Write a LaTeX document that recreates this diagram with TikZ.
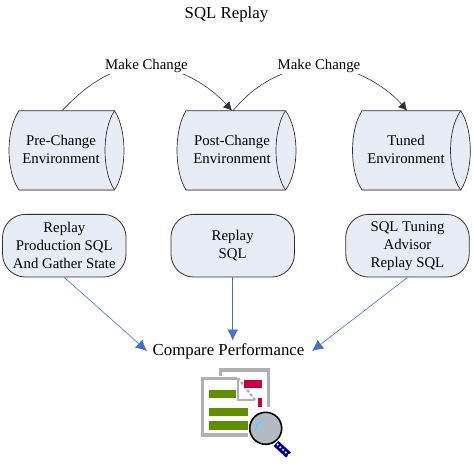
\documentclass[tikz,border=0pt]{standalone}
\usepackage{fontspec}
\setmainfont{Liberation Serif}
\usetikzlibrary{arrows.meta}
\definecolor{boxfill}{HTML}{E7ECF7}
\definecolor{boxline}{HTML}{303030}
\definecolor{flow}{HTML}{4472C4}
\definecolor{pagegray}{HTML}{B0B0B0}
\definecolor{bargreen}{HTML}{5F8F00}
\definecolor{iconred}{HTML}{C8003C}
\definecolor{handle}{HTML}{00007F}
\definecolor{lens}{HTML}{B4BAC4}
\tikzset{
  x=1pt,y=-1pt,
  txt/.style={font=\fontsize{14.8}{18}\selectfont,align=center,inner sep=0pt},
  bigtxt/.style={font=\fontsize{16.8}{20}\selectfont,align=center,inner sep=0pt},
  cyltext/.style={txt,minimum width=#1,minimum height=79.3},
  cylbody/.style={draw=boxline,fill=boxfill,line width=.7pt},
  cylshadow/.style={draw=gray!75,line width=1.4pt},
  proc/.style={txt,draw=boxline,fill=boxfill,line width=.8pt,rounded corners=23,minimum width=123.5,minimum height=62.7},
  curveline/.style={draw=boxline,line width=.6pt},
  curvearrow/.style={curveline,-{Latex[length=8.5,width=9]}},
  flowarrow/.style={draw=flow,line width=.6pt,-{Latex[length=11,width=11]}}
}
% \cylshape{name}{left bulge x}{top-left x}{top-right x}{inner x}{right x}{text centre x}{text}
\newcommand{\cylshape}[8]{%
  \path[cylbody] (#3,110.7) -- (#4,110.7) .. controls ({#4+(#6-#4)*4/3},130) and ({#4+(#6-#4)*4/3},171) .. (#4,190)
     -- (#3,190) .. controls ({#3+(#2-#3)*4/3},171) and ({#3+(#2-#3)*4/3},130) .. (#3,110.7) -- cycle;
  \path[draw=boxline,line width=.7pt] (#4,110.7) .. controls ({#4+(#5-#4)*4/3},130) and ({#4+(#5-#4)*4/3},171) .. (#4,190);
  \path[cylshadow] (#3,190.2) -- (#4,190.2);
  \node[cyltext=#4-#3] (#1) at (#7,149.8) {#8};
}
\begin{document}
\begin{tikzpicture}
\useasboundingbox (0,0) rectangle (474,467);
\node[bigtxt] (title) at (226.5,14.5) {SQL Replay};
\node[txt] (mc1) at (146.5,66) {Make Change};
\node[txt] (mc2) at (319,66) {Make Change};

\cylshape{pre}{9}{19}{114.5}{105}{124}{61}{Pre-Change\\Environment}
\cylshape{post}{177}{186}{285.5}{276}{296}{232}{Post-Change\\Environment}
\cylshape{tuned}{352.5}{362}{460.7}{450.5}{470.3}{406}{Tuned\\Environment}

\coordinate (preout) at (62,110.7);
\coordinate (postin) at (232,110.7);
\coordinate (postout) at (233,110.7);
\coordinate (tunedin) at (407,110.7);
\coordinate (mc1l) at (110,74);
\coordinate (mc1r) at (183,74);
\coordinate (mc2l) at (282,74);
\coordinate (mc2r) at (358,74);
\draw[curveline] (preout) .. controls (76,96) and (92,82) .. (mc1l);
\draw[curvearrow] (mc1r) .. controls (200,81) and (216,93) .. (postin);
\draw[curveline] (postout) .. controls (245,96) and (262,82) .. (mc2l);
\draw[curvearrow] (mc2r) .. controls (375,81) and (392,93) .. (tunedin);

\node[proc] (p1) at (64.3,245.7) {Replay\\Production SQL\\And Gather State};
\node[proc] (p2) at (232.7,245.7) {Replay\\SQL};
\node[proc] (p3) at (407.5,245.7) {SQL Tuning\\Advisor\\Replay SQL};

\node[bigtxt] (cmp) at (228.5,351) {Compare Performance};
\coordinate (cmpl) at (147,351);
\coordinate (cmpr) at (312,351);
\draw[flowarrow] (p1.south) -- (cmpl);
\draw[flowarrow] (p2.south) -- (232.7,340.5);
\draw[flowarrow] (p3.south) -- (cmpr);

% report icon
\draw[pagegray,line width=3.6pt,fill=white] (220.5,376) -- (220.5,369.8) -- (268.3,369.8) -- (268.3,435) -- (202.5,435) -- (202.5,378.5) -- (237,378.5);
\draw[pagegray,line width=2.4pt] (238,378) -- (238,400) -- (255,400);
\draw[pagegray,line width=2.4pt,dash pattern=on 3pt off 2pt] (238,378) -- (255,400);
\fill[bargreen] (209,389.5) rectangle (235.5,398);
\fill[bargreen] (209,407.5) rectangle (248,416);
\fill[bargreen] (209,421) rectangle (248,429.5);
\fill[iconred] (244,380) rectangle (262,388);
\fill[iconred] (257.5,398) rectangle (262,408);
% magnifier
\fill[white] (248,407) rectangle (295,461);
\draw[handle,line width=7pt] (276,443.5) -- (288.5,455);
\draw[white,line width=1.6pt,dash pattern=on 1.6pt off 2.2pt] (277,444) -- (290,456.5);
\fill[lens,draw=black,line width=1.6pt] (265.7,428.3) circle (16);
\draw[cyan!60,line width=1.8pt] (255.5,430) arc (180:265:10);
\end{tikzpicture}
\end{document}
